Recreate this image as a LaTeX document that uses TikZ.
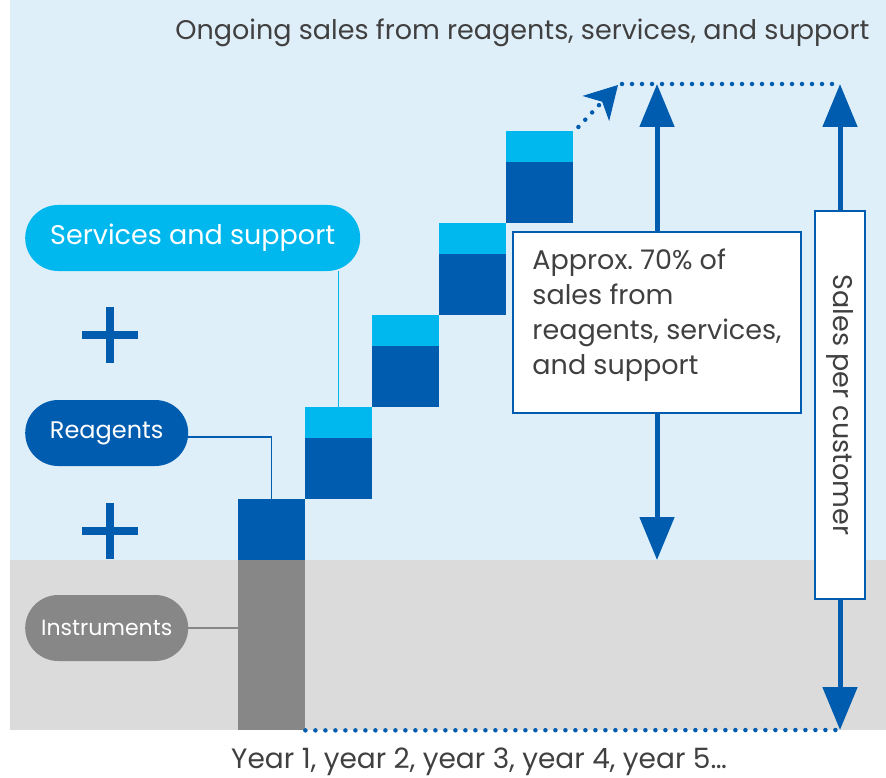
\documentclass[tikz,border=0pt]{standalone}
\usepackage{fontspec}
\setmainfont{Poppins}
\usetikzlibrary{arrows.meta,positioning}

\definecolor{skyback}{HTML}{DFEFFA}
\definecolor{greyback}{HTML}{DBDBDB}
\definecolor{dblue}{HTML}{005CAE}
\definecolor{lblue}{HTML}{00B8EE}
\definecolor{instr}{HTML}{878787}
\definecolor{ink}{HTML}{404040}

\tikzset{
  bar/.style={inner sep=0pt,minimum width=67pt,anchor=north west},
  pill/.style={rounded corners=33pt,minimum height=66pt,inner sep=0pt,anchor=west,
    text=white,font=\fontsize{24}{30}\selectfont},
  dots/.style={draw=dblue,line width=4.5pt,dash pattern=on 0pt off 10pt,line cap=round},
  meas/.style={draw=dblue,line width=5pt,
    {Triangle[width=34pt,length=43pt]}-{Triangle[width=34pt,length=43pt]}},
  txt/.style={text=ink,font=\fontsize{27}{35}\selectfont},
  framed/.style={draw=dblue,line width=2pt,fill=white}
}

\begin{document}
\frenchspacing
\begin{tikzpicture}[x=1pt,y=-1pt]
    \useasboundingbox (0,0) rectangle (886,778);
    \fill[skyback] (10,0) rectangle (886,560);
    \fill[greyback] (10,560) rectangle (886,730);

    % bars
    \node[bar,fill=instr,minimum height=170pt] (g1) at (238,560) {};
    \node[bar,fill=dblue,minimum height=61pt] (b1) at (238,499) {};
    \foreach \i in {2,...,5}{
        \pgfmathsetmacro{\x}{238+67*(\i-1)}
        \pgfmathsetmacro{\y}{499-92*(\i-1)}
        \node[bar,fill=lblue,minimum height=31pt] (s\i) at (\x,\y) {};
        \node[bar,fill=dblue,minimum height=61pt] (b\i) at (\x,\y+31) {};
    }

    % labels on the left
    \node[pill,fill=lblue,minimum width=335pt,font=\fontsize{27}{30}\selectfont] (serv) at (25,238) {Services and support};
    \node[pill,fill=dblue,minimum width=163pt] (reag) at (25,433) {Reagents};
    \node[pill,fill=instr,minimum width=163pt,font=\fontsize{22}{24}\selectfont] (instrs) at (25,628) {Instruments};
    \draw[lblue,line width=1.2pt] (s2.north) -- (s2.north |- serv.south);
    \draw[dblue,line width=1.2pt] ([yshift=-4pt]reag.east) -| (b1.north);
    \draw[instr,line width=1.2pt] (instrs.east) -- (instrs.east -| g1.west);
    \foreach \y in {335,531}{
        \draw[dblue,line width=8pt] (82,\y) -- (138,\y) (110,\y-28) -- (110,\y+28);
    }

    % sales arrows
    \coordinate (tipL) at (657,84);
    \coordinate (baseL) at (657,560);
    \coordinate (tipR) at (840,84);
    \coordinate (baseR) at (840,730);
    \coordinate (turn) at (618,85);
    \draw[dots,-{Stealth[length=32pt,width=36pt,inset=9pt]}] ([shift={(5,-4)}]s5.north east) -- (turn);
    \draw[dots] (622,84) -- (tipR);
    \draw[dots] (g1.south east) -- (baseR);
    \draw[meas] (tipL) -- (baseL);
    \draw[meas] (tipR) -- (baseR);

    \node[framed,txt,anchor=north west,align=left,
        minimum width=288pt,minimum height=181pt] (share) at (512,231)
        {Approx. 70\% of\\sales from\\reagents, services,\\and support\rule[-22pt]{0pt}{0pt}};
    \node[framed,txt,rotate=-90,minimum width=388pt,minimum height=50pt,inner sep=0pt] (spc) at (840,405)
        {Sales per customer};

    \node[txt,anchor=east] (title) at (873,33) {Ongoing sales from reagents, services, and support};
    \node[txt,font=\fontsize{28}{35}\selectfont] (years) at (479,762) {Year 1, year 2, year 3, year 4, year 5…};
\end{tikzpicture}
\end{document}
